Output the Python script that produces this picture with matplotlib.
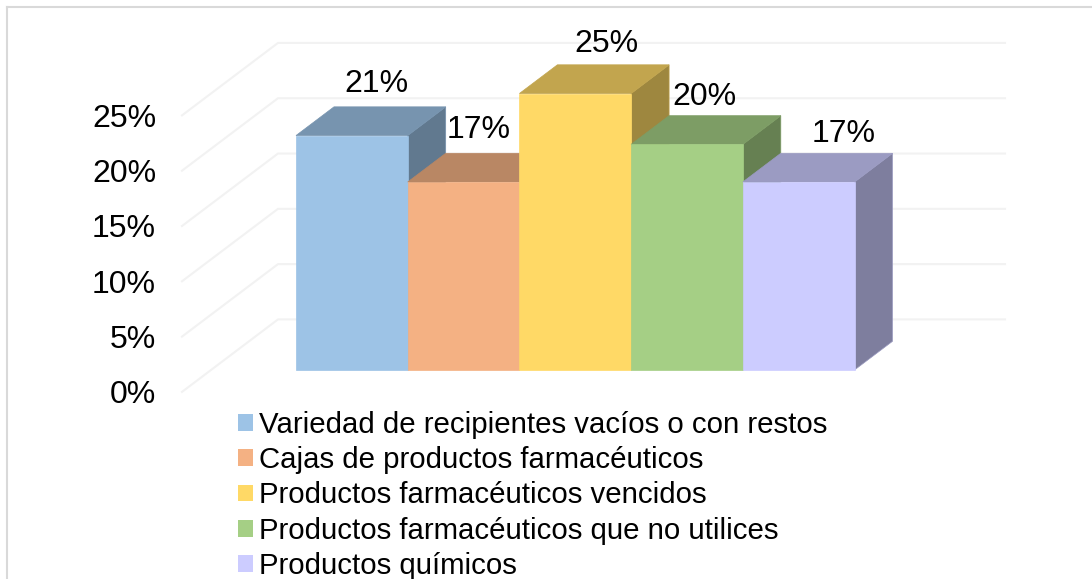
import matplotlib
matplotlib.use('Agg')
import matplotlib.pyplot as plt
from matplotlib.patches import Polygon, Patch
from matplotlib.lines import Line2D

plt.rcParams['font.family'] = ['Liberation Sans', 'DejaVu Sans']

# datos
categorias = ['Variedad de recipientes vacíos o con restos',
              'Cajas de productos farmacéuticos',
              'Productos farmacéuticos vencidos',
              'Productos farmacéuticos que no utilices',
              'Productos químicos']
valores = [21.2, 17.0, 25.0, 20.4, 17.0]
etiquetas = ['21%', '17%', '25%', '20%', '17%']
ticks = [0, 5, 10, 15, 20, 25]
colores = ['#9DC3E6', '#F4B183', '#FFD966', '#A5CF85', '#CCCCFF']

W, H = 1092, 579
px_x = 111.7   # pixeles por barra
px_y = 11.06   # pixeles por 1%
x0, y0 = 296, 370

fig = plt.figure(figsize=(W / 100, H / 100), dpi=100)
ax = fig.add_axes([0, 0, 1, 1])
ax.set_xlim(-x0 / px_x, (W - x0) / px_x)
ax.set_ylim((y0 - H) / px_y, y0 / px_y)
ax.axis('off')


# proyeccion oblicua: d = profundidad en pixeles
def proy(x, y, d=0):
    return (x + d / px_x, y + d * 0.755 / px_y)


def oscuro(c, f):
    rgb = matplotlib.colors.to_rgb(c)
    return tuple(v * f for v in rgb)


# pared y lineas de division
fondo = 67
frente = -29
x_izq = (211 - x0) / px_x
x_der = (1005 - fondo - x0) / px_x
for t in ticks:
    p1 = proy(x_izq, t, frente)
    p2 = proy(x_izq, t, fondo)
    p3 = proy(x_der, t, fondo)
    ax.plot([p1[0], p2[0], p3[0]], [p1[1], p2[1], p3[1]], color='#F2F2F2', lw=1.5, zorder=1)
    ax.annotate(f'{t}%', proy(x_izq, t, frente), xytext=(-26 * 0.72, -3.5 * 0.72), textcoords='offset points',
                ha='right', va='center', fontsize=23, color='black', zorder=6)

# barras 3D
prof = 38
for i, (v, c) in enumerate(zip(valores, colores)):
    z = 2 + i
    ax.add_patch(Polygon([proy(i + 1, 0), proy(i + 1, v), proy(i + 1, v, prof), proy(i + 1, 0, prof)],
                         closed=True, fc=oscuro(c, 0.62), ec=oscuro(c, 0.75), lw=0.5, zorder=z))
    ax.add_patch(Polygon([proy(i, v), proy(i + 1, v), proy(i + 1, v, prof), proy(i, v, prof)],
                         closed=True, fc=oscuro(c, 0.76), ec=oscuro(c, 0.76), lw=0.5, zorder=z))
    ax.add_patch(Polygon([proy(i, 0), proy(i + 1, 0), proy(i + 1, v), proy(i, v)],
                         closed=True, fc=c, ec=c, lw=0.5, zorder=z))

# etiquetas de datos
offs = [(25, 52), (15, 52), (31, 50), (17, 47), (45, 48)]
for i, (v, e) in enumerate(zip(valores, etiquetas)):
    ax.annotate(e, (i + 0.5, v), xytext=(offs[i][0] * 0.72, offs[i][1] * 0.72), textcoords='offset points',
                ha='center', va='center', fontsize=23, color='black', zorder=10)

# leyenda
handles = [Patch(fc=c, ec='none') for c in colores]
ley = ax.legend(handles, categorias, loc='upper left', bbox_to_anchor=(238 / W, 1 - 411 / H),
                bbox_transform=fig.transFigure, frameon=False, fontsize=21.15, borderpad=0, borderaxespad=0,
                labelspacing=0.245, handlelength=0.51, handleheight=0.51, handletextpad=0.2)
for t in ley.get_texts():
    t.set_color('black')

# borde
borde = dict(color='#D9D9D9', lw=1.5, transform=fig.transFigure)
fig.add_artist(Line2D([6.5 / W, 6.5 / W], [0, 1 - 6.5 / H], **borde))
fig.add_artist(Line2D([6.5 / W, 1], [1 - 6.5 / H, 1 - 6.5 / H], **borde))

plt.savefig('out.png', dpi=100)
